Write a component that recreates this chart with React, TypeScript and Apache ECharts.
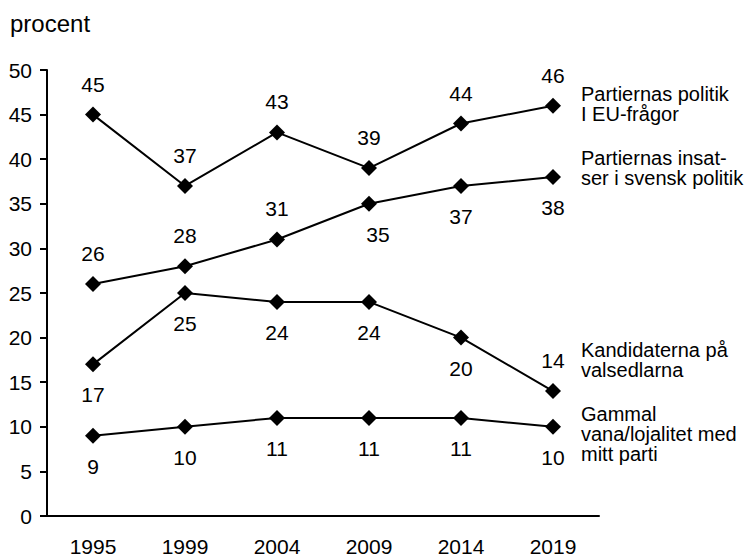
import React, { useEffect, useRef } from "react";
import * as echarts from "echarts";

const years = ["1995", "1999", "2004", "2009", "2014", "2019"];
const euPolitik = [45, 37, 43, 39, 44, 46];
const insatser = [26, 28, 31, 35, 37, 38];
const kandidater = [17, 25, 24, 24, 20, 14];
const vana = [9, 10, 11, 11, 11, 10];

const seriesNames = [
  "Partiernas politik\nI EU-frågor",
  "Partiernas insat-\nser i svensk politik",
  "Kandidaterna på\nvalsedlarna",
  "Gammal\nvana/lojalitet med\nmitt parti",
];

// label placement per point (style only)
const posEu = ["top", "top", "top", "top", "top", "top"];
const posIns = ["top", "top", "top", "bottom", "bottom", "bottom"];
const posKand = ["bottom", "bottom", "bottom", "bottom", "bottom", "top"];
const posVana = ["bottom", "bottom", "bottom", "bottom", "bottom", "bottom"];

const FONT = "Arial, 'Liberation Sans', Helvetica, sans-serif";
const FS = 21;

export default function App() {
  const ref = useRef<HTMLDivElement>(null);
  useEffect(() => {
    if (!ref.current) return;
    const chart = echarts.init(ref.current, undefined, { renderer: "svg" });
    const mk = (name: string, values: number[], pos: string[]) => ({
      name,
      type: "line",
      data: values.map((v, i) => ({
        value: v,
        label: {
          position: pos[i],
          offset: name === seriesNames[1] && i === 3 ? [9, 0] : [0, 0],
        },
      })),
      symbol: "diamond",
      symbolSize: 16,
      lineStyle: { color: "#000", width: 2 },
      itemStyle: { color: "#000" },
      label: {
        show: true,
        distance: 12,
        color: "#000",
        fontSize: FS,
        fontFamily: FONT,
      },
    });
    const txt = (text: string, left: number, top: number) => ({
      type: "text",
      left,
      top,
      style: { text, fontSize: 20, lineHeight: 20, fill: "#000", fontFamily: FONT },
    });
    chart.setOption({
      animation: false,
      textStyle: { fontFamily: FONT },
      grid: { left: 47, right: 157, top: 70, bottom: 40, containLabel: false },
      xAxis: {
        type: "category",
        data: years,
        boundaryGap: true,
        axisLine: { lineStyle: { color: "#000", width: 2 } },
        axisTick: { show: false },
        axisLabel: { color: "#000", fontSize: FS, margin: 20, fontFamily: FONT },
      },
      yAxis: {
        type: "value",
        min: 0,
        max: 50,
        interval: 5,
        axisLine: { show: true, lineStyle: { color: "#000", width: 2 } },
        axisTick: { show: true, length: 7, lineStyle: { color: "#000", width: 2 } },
        splitLine: { show: false },
        axisLabel: { color: "#000", fontSize: FS, margin: 15, fontFamily: FONT },
      },
      series: [
        mk(seriesNames[0], euPolitik, posEu),
        mk(seriesNames[1], insatser, posIns),
        mk(seriesNames[2], kandidater, posKand),
        mk(seriesNames[3], vana, posVana),
      ],
      graphic: [
        {
          type: "text",
          left: 10,
          top: 11,
          style: { text: "procent", fontSize: 24, fill: "#000", fontFamily: FONT },
        },
        txt(seriesNames[0], 581, 84),
        txt(seriesNames[1], 581, 148),
        txt(seriesNames[2], 581, 340),
        txt(seriesNames[3], 581, 404),
      ],
    });
    return () => chart.dispose();
  }, []);
  return (
    <div
      ref={ref}
      style={{ position: "fixed", left: 0, top: 0, width: 756, height: 557, background: "#fff" }}
    />
  );
}
